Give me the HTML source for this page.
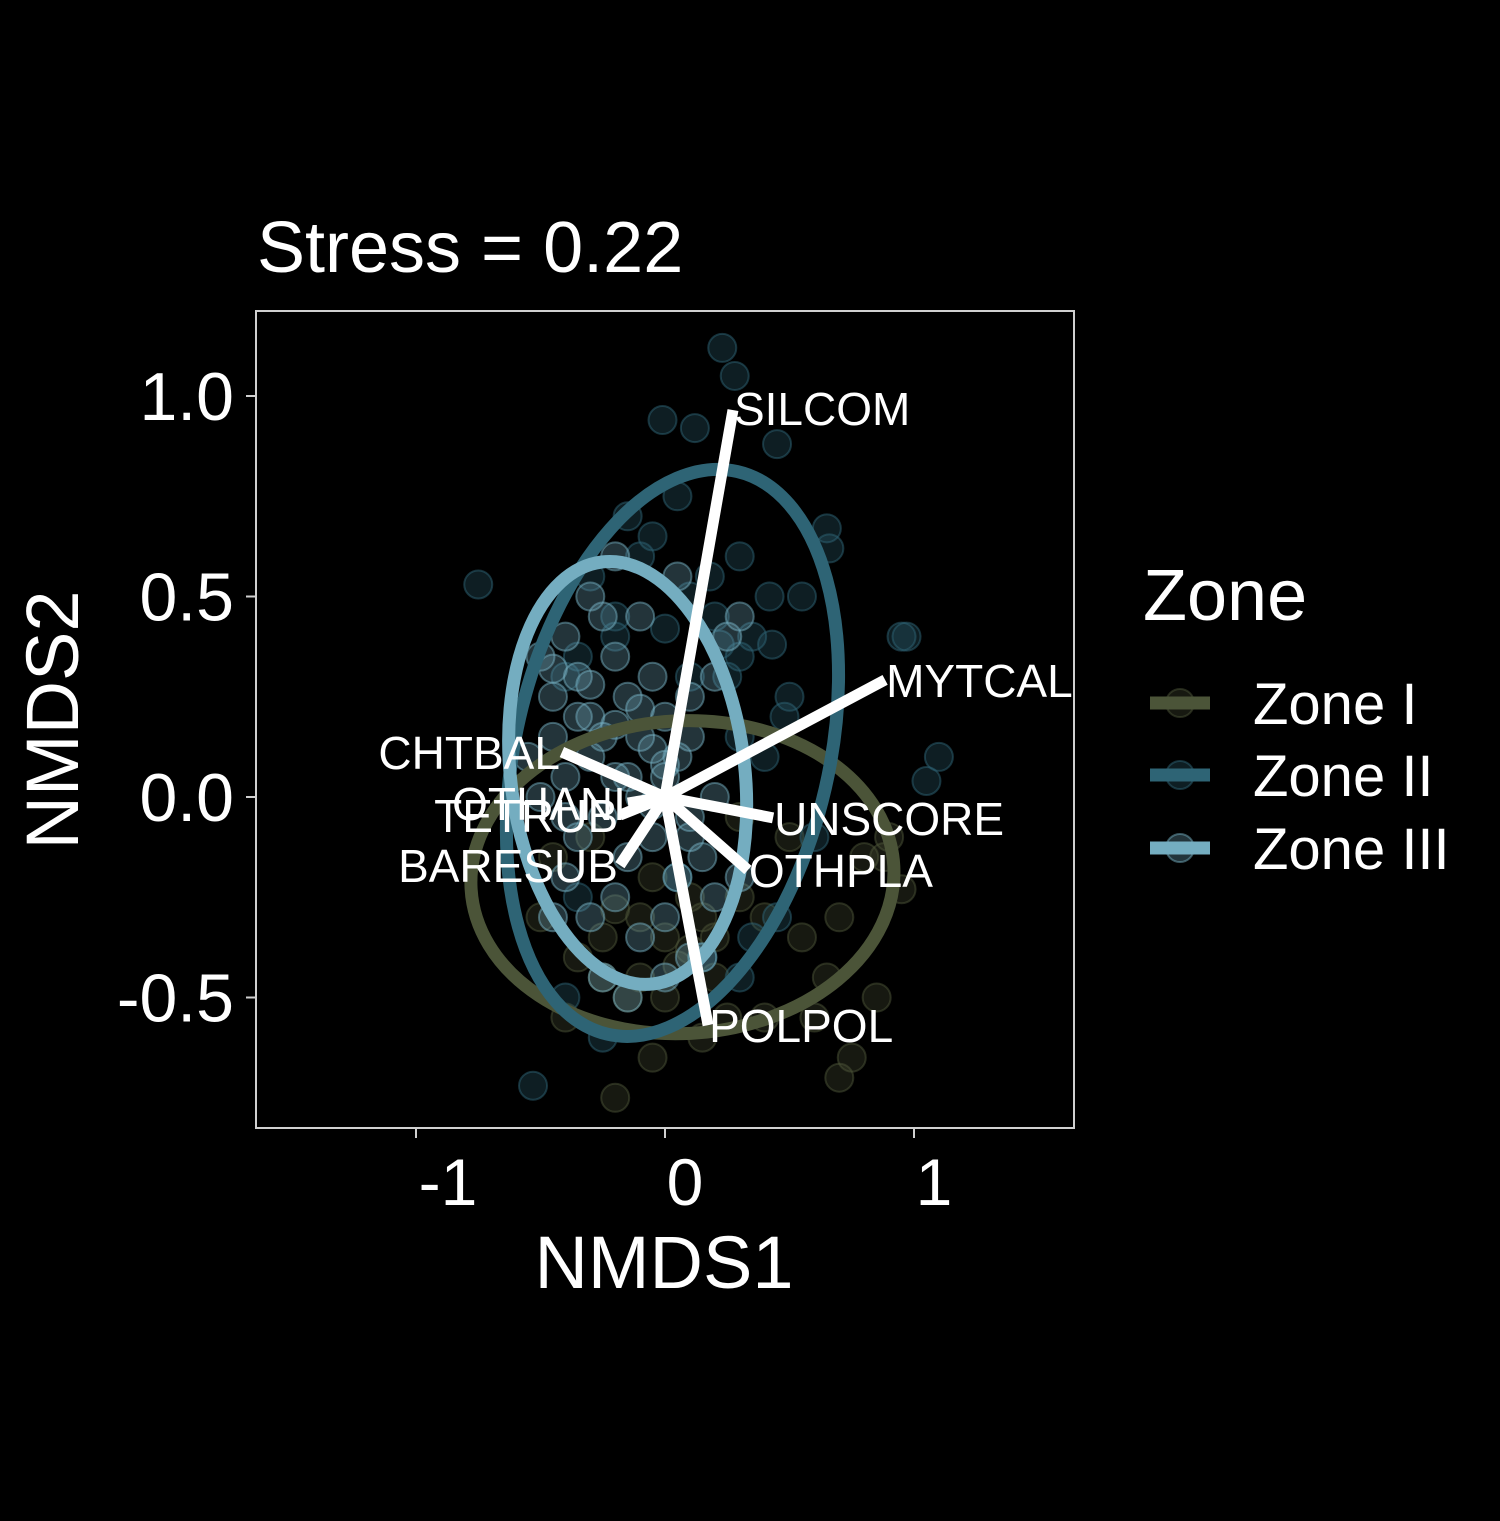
<!DOCTYPE html>
<html><head><meta charset="utf-8"><style>
html,body{margin:0;padding:0;background:#000;}
svg{display:block;font-family:"Liberation Sans",Arial,sans-serif;}
</style></head><body>
<svg id="chart" width="1500" height="1521" viewBox="0 0 1500 1521" xmlns="http://www.w3.org/2000/svg">
<rect x="0" y="0" width="1500" height="1521" fill="#000"/>
<text x="257" y="272" font-size="72" fill="#fff">Stress = 0.22</text>
<g id="plot"></g>
<rect x="256" y="311" width="818" height="817" fill="none" stroke="#d0d0d0" stroke-width="2"/>
<g id="axes"></g>
<text x="664" y="1288" font-size="74" fill="#fff" text-anchor="middle">NMDS1</text>
<text transform="translate(78,720) rotate(-90)" font-size="74" fill="#fff" text-anchor="middle">NMDS2</text>
<text x="1143" y="620" font-size="72" fill="#fff">Zone</text>
<g id="legend"></g>
</svg>
<script>
const zoneNames=["Zone I","Zone II","Zone III"];
const zoneColors=["#4b5438","#2e6475","#74adc0"];
const zone1X=[0.85,0.65,0.7,0.75,-0.2,-0.05,0.15,0.4,0.6,0.88,0.95,0.9,0.5,0.4,0.2,0.0,-0.1,-0.25,-0.35,-0.15,0.1,0.3,-0.45,-0.3,0.25,0.0,-0.1,0.55,0.7,0.8,-0.5,-0.4,0.05,0.2,-0.2,0.1,-0.05,0.15,0.3,-0.25];
const zone1Y=[-0.5,-0.45,-0.7,-0.65,-0.75,-0.65,-0.6,-0.55,-0.55,-0.15,-0.23,-0.1,-0.1,-0.3,-0.45,-0.35,-0.3,-0.35,-0.4,-0.5,-0.25,-0.05,-0.15,-0.1,-0.55,-0.5,-0.45,-0.35,-0.3,-0.15,-0.3,-0.55,-0.42,-0.35,-0.28,-0.38,-0.2,-0.3,-0.25,-0.45];
const zone2X=[0.23,0.28,-0.01,0.12,0.45,-0.75,0.65,0.66,0.55,0.95,0.97,1.1,1.05,-0.53,-0.25,0.43,0.35,0.48,0.5,0.3,0.1,-0.2,-0.1,0.2,0.3,-0.35,-0.4,0.1,0.4,0.6,0.35,0.3,0.45,-0.35,-0.4,0.15,0.05,-0.15,0.05,0.3,0.42,0.18,-0.05,0.25,-0.3,-0.2,0.0,0.22];
const zone2Y=[1.12,1.05,0.94,0.92,0.88,0.53,0.67,0.62,0.5,0.4,0.4,0.1,0.04,-0.72,-0.6,0.38,0.4,0.2,0.25,0.15,0.5,0.45,0.6,0.45,0.35,0.35,0.3,0.3,0.1,-0.1,-0.35,-0.45,-0.3,-0.25,-0.5,-0.4,-0.2,0.7,0.75,0.6,0.5,0.55,0.65,0.3,0.55,0.4,0.42,0.38];
const zone3X=[-0.5,-0.45,-0.4,-0.35,-0.3,-0.25,-0.2,-0.15,-0.1,-0.05,0.0,0.05,0.1,-0.55,-0.5,-0.45,-0.4,-0.3,-0.2,-0.1,0.0,0.1,0.2,0.25,-0.35,-0.25,-0.15,-0.05,0.05,0.15,-0.4,-0.3,-0.2,-0.1,0.0,0.1,0.2,-0.25,-0.15,0.0,0.15,-0.3,-0.1,0.05,0.2,0.3,0.3,-0.45,-0.2,0.1,-0.35,-0.25,-0.15,-0.05,-0.45,-0.3,-0.1,-0.2,0.0,-0.05,0.1,-0.4];
const zone3Y=[0.35,0.25,0.4,0.3,0.2,0.45,0.35,0.25,0.15,0.3,0.2,0.1,0.25,0.1,0.0,0.15,0.05,0.1,0.05,0.0,0.05,-0.05,0.0,0.4,-0.1,-0.05,-0.15,-0.1,-0.2,-0.15,-0.2,-0.3,-0.25,-0.35,-0.3,-0.4,-0.25,-0.45,-0.5,-0.45,-0.4,0.5,0.45,0.55,0.3,0.45,-0.2,-0.3,0.6,-0.1,0.2,0.15,0.05,0.12,0.32,0.28,0.22,0.18,0.08,-0.02,0.15,-0.05];
const zoneXs=[zone1X,zone2X,zone3X];
const zoneYs=[zone1Y,zone2Y,zone3Y];
const ellCx=[0.07,0.03,-0.15];
const ellCy=[-0.2,0.11,0.06];
const ellRx=[0.85,0.63,0.47];
const ellRy=[0.39,0.72,0.53];
const ellAngle=[-3,13,-7];
const arrowNames=["SILCOM","MYTCAL","UNSCORE","OTHPLA","POLPOL","BARESUB","TETRUB","OTHANI","CHTBAL"];
const arrowX=[0.273,0.884,0.434,0.333,0.173,-0.181,-0.18,-0.149,-0.414];
const arrowY=[0.965,0.292,-0.052,-0.182,-0.569,-0.17,-0.045,-0.015,0.112];
const xTicks=[-1,0,1];
const xTickLabels=["-1","0","1"];
const yTicks=[1.0,0.5,0.0,-0.5];
const yTickLabels=["1.0","0.5","0.0","-0.5"];

const NS="http://www.w3.org/2000/svg";
const sx=v=>665+v*249;
const sy=v=>797-v*401;
function mk(tag,attrs,parent){const e=document.createElementNS(NS,tag);for(const k in attrs)e.setAttribute(k,attrs[k]);parent.appendChild(e);return e;}
const plot=document.getElementById('plot');
const axes=document.getElementById('axes');
const legend=document.getElementById('legend');

for(let z=0;z<3;z++){
  const g=mk('g',{},plot);
  
  
  for(let i=0;i<zoneXs[z].length;i++){
    const c=mk('circle',{cx:sx(zoneXs[z][i]),cy:sy(zoneYs[z][i]),r:14,fill:zoneColors[z],'fill-opacity':0.3,stroke:zoneColors[z],'stroke-opacity':0.5,'stroke-width':2},g);
    
    
  }
}
for(let z=0;z<3;z++){
  const e=mk('ellipse',{cx:sx(ellCx[z]),cy:sy(ellCy[z]),rx:ellRx[z]*249,ry:ellRy[z]*401,fill:'none',stroke:zoneColors[z],'stroke-width':13,transform:'rotate('+ellAngle[z]+' '+sx(ellCx[z])+' '+sy(ellCy[z])+')'},plot);
  
  
}
for(let i=0;i<arrowNames.length;i++){
  const l=mk('line',{x1:sx(0),y1:sy(0),x2:sx(arrowX[i]),y2:sy(arrowY[i]),stroke:'#fff','stroke-width':11},plot);
  
  
}
for(let i=0;i<arrowNames.length;i++){
  const left=arrowX[i]<0;
  const t=mk('text',{x:sx(arrowX[i])+(left?-2:1),y:sy(arrowY[i])+(arrowY[i]>0.5?15:17),'font-size':46,fill:'#fff','text-anchor':left?'end':'start'},plot);
  t.textContent=arrowNames[i];
  
  
}
for(let i=0;i<xTicks.length;i++){
  const x=sx(xTicks[i]);
  const tk=mk('line',{x1:x,y1:1128,x2:x,y2:1138,stroke:'#d0d0d0','stroke-width':2},axes);
  
  
  const t=mk('text',{x:x+(xTicks[i]<0?32:20),y:1205,'font-size':66,fill:'#fff','text-anchor':'middle'},axes);
  t.textContent=xTickLabels[i];
  
  
}
for(let i=0;i<yTicks.length;i++){
  const y=sy(yTicks[i]);
  const tk=mk('line',{x1:246,y1:y,x2:256,y2:y,stroke:'#d0d0d0','stroke-width':2},axes);
  
  
  const t=mk('text',{x:234,y:y+24,'font-size':68,fill:'#fff','text-anchor':'end'},axes);
  t.textContent=yTickLabels[i];
  
  
}
const legY=[703,775,848];
for(let z=0;z<3;z++){
  const g=mk('g',{},legend);
  
  
  mk('circle',{cx:1180,cy:legY[z],r:14,fill:zoneColors[z],'fill-opacity':0.3,stroke:zoneColors[z],'stroke-opacity':0.5,'stroke-width':2},g);
  mk('line',{x1:1150,y1:legY[z],x2:1210,y2:legY[z],stroke:zoneColors[z],'stroke-width':13},g);
  const t=mk('text',{x:1253,y:legY[z]+21,'font-size':58,fill:'#fff'},g);
  t.textContent=zoneNames[z];
}
</script>
</body></html>
